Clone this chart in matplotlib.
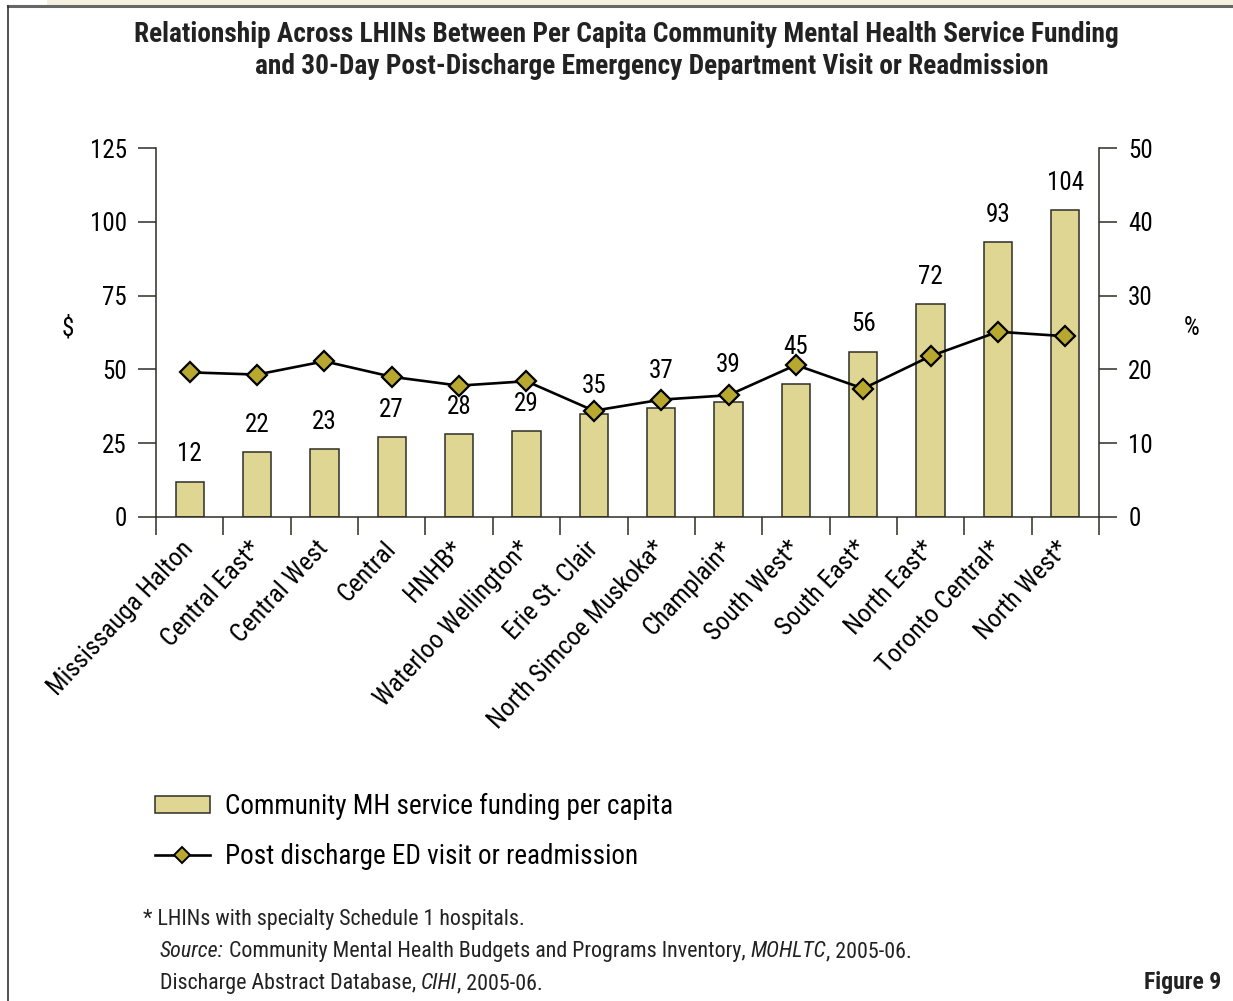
import matplotlib
import numpy as np

matplotlib.use('Agg')
import matplotlib.pyplot as plt
from matplotlib.lines import Line2D
from matplotlib.patches import Patch, Rectangle

REG = ['Roboto Condensed', 'Archivo Narrow', 'DejaVu Sans']
BOLD = ['Roboto Condensed', 'Asap Condensed', 'DejaVu Sans']
plt.rcParams['font.family'] = REG

regions = ['Mississauga Halton', 'Central East*', 'Central West', 'Central', 'HNHB*',
           'Waterloo Wellington*', 'Erie St. Clair', 'North Simcoe Muskoka*', 'Champlain*',
           'South West*', 'South East*', 'North East*', 'Toronto Central*', 'North West*']
funding = [12, 22, 23, 27, 28, 29, 35, 37, 39, 45, 56, 72, 93, 104]
readmit_pct = [19.6, 19.3, 21.1, 19.0, 17.8, 18.4, 14.4, 15.9, 16.5, 20.6, 17.4, 21.8, 25.1, 24.5]

bar_color = '#e0d694'
edge_color = '#2e2e26'
marker_color = '#b8a830'

W, H = 1233, 1001
fig = plt.figure(figsize=(W / 100, H / 100), dpi=100)


def fx(px):
    return px / W


def fy(py):
    return 1 - py / H


# page frame
fig.patches.append(Rectangle((fx(47), fy(5)), 1, fy(0) - fy(5), transform=fig.transFigure,
                             facecolor='#f4f0df', edgecolor='none'))
fig.lines.append(Line2D([fx(8), 1], [fy(5.5), fy(5.5)], transform=fig.transFigure,
                        color='#666666', lw=2.2))
fig.lines.append(Line2D([fx(8), fx(8)], [fy(5.5), 0], transform=fig.transFigure,
                        color='#333333', lw=1.2))

ax = fig.add_axes([fx(156), fy(517), fx(1099) - fx(156), fy(148) - fy(517)])
ax2 = ax.twinx()
ax.set_zorder(1)
ax2.set_zorder(2)
ax2.patch.set_visible(False)

x = np.arange(len(regions))
bars = ax.bar(x, funding, width=0.42, color=bar_color, edgecolor=edge_color, linewidth=1.1)
for xi, v in zip(x, funding):
    # labels that sit near the line are lifted a little
    lift = 7 if 7 <= xi <= 9 else 0
    ax.annotate(str(v), (xi, v), xytext=(0, 11 + lift), textcoords='offset points',
                ha='center', va='bottom', fontsize=18)

ax2.plot(x, readmit_pct, color='black', lw=1.9, marker='D', markersize=10,
         markerfacecolor=marker_color, markeredgecolor='black', markeredgewidth=1.6)

ax.set_xlim(-0.5, len(regions) - 0.5)
ax.set_ylim(0, 125)
ax2.set_ylim(0, 50)
ax.set_yticks(np.arange(0, 126, 25))
ax2.set_yticks(np.arange(0, 51, 10))

ax.set_xticks(x)
ax.set_xticklabels(regions, rotation=47, ha='right', va='center', rotation_mode='anchor', fontsize=18.5)
ax.set_xticks(np.arange(-0.5, len(regions), 1), minor=True)
ax.tick_params(axis='x', which='major', length=0, pad=20)
ax.tick_params(axis='x', which='minor', length=13, width=1.1, color=edge_color)
ax.tick_params(axis='y', length=13, width=1.1, color=edge_color, labelsize=18, pad=8)
ax2.tick_params(axis='y', length=13, width=1.1, color=edge_color, labelsize=18, pad=8)

for a in (ax, ax2):
    a.spines['top'].set_visible(False)
    for s in ('left', 'right', 'bottom'):
        a.spines[s].set_linewidth(1.1)
        a.spines[s].set_color(edge_color)
ax.spines['right'].set_visible(False)
ax2.spines['left'].set_visible(False)
ax2.spines['bottom'].set_visible(False)

fig.text(fx(68), fy(328), '$', ha='center', va='center', fontsize=18)
fig.text(fx(1192), fy(328), '%', ha='center', va='center', fontsize=18)

fig.text(fx(626), fy(35), 'Relationship Across LHINs Between Per Capita Community Mental Health Service Funding',
         ha='center', va='center', fontsize=19.7, fontweight='bold', family=BOLD, color='#222222')
fig.text(fx(652), fy(67), 'and 30-Day Post-Discharge Emergency Department Visit or Readmission',
         ha='center', va='center', fontsize=19.7, fontweight='bold', family=BOLD, color='#222222')

handles = [Patch(facecolor=bar_color, edgecolor=edge_color, linewidth=1.1),
           Line2D([], [], color='black', lw=1.9, marker='D', markersize=8,
                  markerfacecolor=marker_color, markeredgecolor='black', markeredgewidth=1.4)]
fig.legend(handles, ['Community MH service funding per capita', 'Post discharge ED visit or readmission'],
           loc='upper left', bbox_to_anchor=(fx(144), fy(782)), frameon=False, fontsize=19.5,
           borderaxespad=0, handlelength=2.03, handleheight=0.63, handletextpad=0.55,
           labelspacing=0.85)

# footnotes with mixed styles
fig.canvas.draw()
renderer = fig.canvas.get_renderer()


def rich_line(px, py, parts):
    xpos = fx(px)
    for txt, style in parts:
        t = fig.text(xpos, fy(py), txt, ha='left', va='baseline', fontsize=15.8,
                     style=style, color='#222222')
        bb = t.get_window_extent(renderer)
        xpos = bb.x1 / W


rich_line(143, 925, [('* LHINs with specialty Schedule 1 hospitals.', 'normal')])
rich_line(160, 957, [('Source:', 'italic'),
                     (' Community Mental Health Budgets and Programs Inventory, ', 'normal'),
                     ('MOHLTC', 'italic'), (', 2005-06.', 'normal')])
rich_line(160, 989, [('Discharge Abstract Database, ', 'normal'), ('CIHI', 'italic'),
                     (', 2005-06.', 'normal')])
fig.text(fx(1221), fy(989), 'Figure 9', ha='right', va='baseline', fontsize=17,
         fontweight='bold', family=BOLD, color='#222222')

fig.savefig('out.png', dpi=100)
